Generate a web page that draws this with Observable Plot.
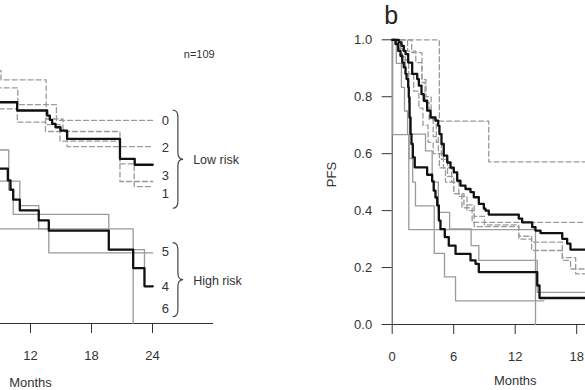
<!DOCTYPE html>
<html><head><meta charset="utf-8">
<script src="https://cdn.jsdelivr.net/npm/d3@7"></script>
<script src="https://cdn.jsdelivr.net/npm/@observablehq/plot@0.6"></script>
<style>
html,body{margin:0;padding:0;background:#fff;}
#wrap{position:relative;width:585px;height:390px;overflow:hidden;background:#fff;}
#left{position:absolute;left:-160px;top:0;width:420px;height:390px;}
#right{position:absolute;left:300px;top:0;width:400px;height:390px;}
#wrap svg{overflow:visible;max-width:none !important;}
</style></head>
<body><div id="wrap"><div id="left"></div><div id="right"></div></div>
<script>
// ---------- shared ticks ----------
const monthTicks = [0, 6, 12, 18, 24];
const survTicks = [0, 0.2, 0.4, 0.6, 0.8, 1.0];
// the reference crop shows only these month labels in each panel
const aShownMonths = [12, 18, 24];
const bShownMonths = [0, 6, 12, 18];

// ---------- panel a (left, partially visible) ----------
// low-risk pooled (black)
const aLowPooledT = [0, 1.5, 3, 4.5, 6, 7.5, 8.5, 10.69, 13.64, 13.9, 14.13, 14.46, 14.95, 15.6, 20.8, 22.25, 24.03];
const aLowPooledS = [1, 0.98, 0.95, 0.92, 0.89, 0.85, 0.779, 0.75, 0.732, 0.717, 0.703, 0.691, 0.679, 0.65, 0.58, 0.559, 0.559];
// score 0 (dashed)
const aScore0T = [0, 3, 6, 8, 9.1, 13.54, 14.55, 24.03];
const aScore0S = [1, 0.97, 0.93, 0.89, 0.858, 0.771, 0.715, 0.715];
// score 2 (dashed)
const aScore2T = [0, 2.5, 5, 7.5, 10.75, 13.54, 15.2, 15.6, 24.03];
const aScore2S = [1, 0.96, 0.92, 0.83, 0.771, 0.72, 0.676, 0.623, 0.623];
// score 3 (dashed)
const aScore3T = [0, 2, 4, 6, 8, 10.7, 13.47, 20.8, 24.03];
const aScore3S = [1, 0.95, 0.9, 0.85, 0.756, 0.709, 0.676, 0.5, 0.5];
// score 1 (dashed)
const aScore1T = [0, 2, 4, 6, 8, 10.69, 13.5, 14.9, 20.8, 22.2, 24.03];
const aScore1S = [1, 0.96, 0.92, 0.86, 0.779, 0.75, 0.70, 0.642, 0.562, 0.482, 0.482];
// high-risk pooled (black)
const aHighPooledT = [0, 1, 2, 3, 4.5, 6, 7.5, 8.6, 9.77, 10.03, 10.3, 10.95, 12.81, 13.8, 19.7, 22.1, 23.21, 24.03];
const aHighPooledS = [1, 0.93, 0.85, 0.78, 0.71, 0.65, 0.6, 0.545, 0.504, 0.471, 0.436, 0.398, 0.363, 0.327, 0.26, 0.195, 0.131, 0.131];
// score 5 (grey)
const aScore5T = [0, 2, 4, 6, 8, 10.95, 12.81, 13.8, 24.03];
const aScore5S = [1, 0.92, 0.83, 0.75, 0.501, 0.415, 0.333, 0.249, 0.249];
// score 4 (grey)
const aScore4T = [0, 2, 4, 6, 8, 9.86, 10.3, 19.7, 23.21];
const aScore4S = [1, 0.9, 0.8, 0.7, 0.611, 0.47, 0.384, 0.26, 0.195];
// score 6 (grey)
const aScore6T = [0, 3, 7, 22.1];
const aScore6S = [1, 0.667, 0.333, 0];

// curve labels of panel a
const aLabels = ["0", "2", "3", "1", "5", "4", "6"];
const aLabelS = [0.715, 0.62, 0.521, 0.458, 0.251, 0.128, 0.053];
const aLabelT = 25.27;
const groupNames = ["Low risk", "High risk"];
const groupS = [0.576, 0.151];
const groupT = 28.0;
const braceTop = [0.75, 0.283];
const braceBottom = [0.404, 0.022];
const braceT = 26.03;
const nText = "n=109";

// ---------- panel b (right) ----------
const bLowPooledT = [0,0.64,0.91,1.13,1.30,1.56,1.95,2.44,2.60,2.86,3.08,3.41,3.74,4.22,4.49,4.61,4.81,5.03,5.37,5.69,6.01,6.34,6.66,7.15,7.64,7.96,8.45,8.94,9.10,9.42,12.35,12.68,13.66,13.98,14.47,16.59,17.07,17.39,24];
const bLowPooledS = [1,0.991,0.979,0.961,0.950,0.920,0.880,0.862,0.839,0.809,0.786,0.751,0.727,0.716,0.698,0.669,0.634,0.593,0.569,0.551,0.534,0.505,0.488,0.476,0.465,0.447,0.424,0.407,0.400,0.386,0.372,0.359,0.342,0.330,0.321,0.301,0.284,0.263,0.263];
const bHighPooledT = [0,0.32,0.59,0.81,0.98,1.13,1.30,1.40,1.56,1.62,1.69,1.79,1.88,2.01,2.20,3.41,3.90,4.05,4.22,4.39,4.55,4.71,5.13,5.52,6.18,7.64,8.13,8.45,14.15,14.37,22];
const bHighPooledS = [1,0.985,0.961,0.944,0.920,0.903,0.880,0.862,0.833,0.798,0.727,0.669,0.634,0.587,0.552,0.526,0.503,0.470,0.446,0.418,0.365,0.335,0.307,0.277,0.248,0.225,0.213,0.184,0.137,0.093,0.093];
// grey solid (high-risk scores)
const bGreyAT = [0, 0.05, 1.62, 13.98];
const bGreyAS = [1, 0.667, 0.333, 0];
const bGreyBT = [0, 0.4, 0.9, 1.2, 1.5, 1.65, 2.0, 2.27, 4.1, 5.1, 6.18, 14.8];
const bGreyBS = [1, 0.917, 0.833, 0.75, 0.667, 0.583, 0.5, 0.417, 0.25, 0.167, 0.083, 0.083];
const bGreyCT = [0, 0.8, 1.3, 1.6, 1.7, 3.25, 3.9, 4.5, 5.6, 7.7, 8.45, 14.15, 22];
const bGreyCS = [1, 0.94, 0.88, 0.78, 0.669, 0.61, 0.5, 0.394, 0.336, 0.277, 0.225, 0.113, 0.113];
// grey dashed (low-risk scores)
const bDashAT = [0, 4.6, 9.42, 24];
const bDashAS = [1, 0.714, 0.571, 0.571];
const bDashBT = [0, 1.5, 2.3, 2.9, 3.3, 3.8, 4.3, 4.8, 5.4, 6.0, 6.8, 7.8, 24];
const bDashBS = [1, 0.96, 0.92, 0.86, 0.8, 0.72, 0.64, 0.58, 0.52, 0.46, 0.41, 0.359, 0.359];
const bDashCT = [0, 1.9, 2.9, 3.2, 3.6, 4.0, 4.5, 5.0, 5.8, 6.5, 7.3, 8.0, 12.35, 13.6, 16.6, 17.4, 24];
const bDashCS = [1, 0.955, 0.85, 0.78, 0.72, 0.66, 0.60, 0.55, 0.50, 0.45, 0.40, 0.344, 0.30, 0.289, 0.225, 0.195, 0.195];
const bDashDT = [0, 0.5, 1.0, 1.6, 2.1, 2.6, 3.0, 3.5, 4.0, 4.6, 5.2, 6.0, 7.0, 8.0, 9.0, 12.35, 13.6, 16.6, 17.9, 24];
const bDashDS = [1, 0.97, 0.93, 0.88, 0.82, 0.76, 0.70, 0.64, 0.60, 0.55, 0.50, 0.46, 0.42, 0.38, 0.35, 0.31, 0.26, 0.235, 0.178, 0.178];

// ---------- helpers ----------
const series = (T, S) => T.map((t, i) => ({t, s: S[i]}));
const BLACK = {stroke: "#111", strokeWidth: 2.3};
const GREY = {stroke: "#9a9a9a", strokeWidth: 1.3};
const DASH = {stroke: "#9a9a9a", strokeWidth: 1.3, strokeDasharray: "5,3"};
const step = (T, S, style) => Plot.line(series(T, S), {x: "t", y: "s", curve: "step-after", ...style});
const FONT = "Liberation Sans, Arial, Helvetica, sans-serif";
const SVGSTYLE = {fontFamily: FONT, fontSize: "13px", color: "#333", background: "transparent", maxWidth: "none", overflow: "visible"};

// ---------- panel a ----------
const left = Plot.plot({
  width: 420, height: 390,
  marginLeft: 68, marginRight: 108, marginTop: 39, marginBottom: 67,
  style: SVGSTYLE,
  x: {domain: [0, 24], ticks: monthTicks.filter(t => aShownMonths.includes(t)), tickSize: 10, tickPadding: 17, label: null},
  y: {domain: [0, 1], axis: null},
  marks: [
    Plot.ruleY([0], {x1: 0, x2: 30, stroke: "#333", strokeWidth: 1}),
    step(aScore0T, aScore0S, DASH),
    step(aScore2T, aScore2S, DASH),
    step(aScore3T, aScore3S, DASH),
    step(aScore1T, aScore1S, DASH),
    step(aScore5T, aScore5S, GREY),
    step(aScore4T, aScore4S, GREY),
    step(aScore6T, aScore6S, GREY),
    step(aLowPooledT, aLowPooledS, BLACK),
    step(aHighPooledT, aHighPooledS, BLACK),
    Plot.text(aLabels, {x: () => aLabelT, y: (d, i) => aLabelS[i], text: d => d, fontSize: 13, fill: "#333"}),
    Plot.text(groupNames, {x: () => groupT, y: (d, i) => groupS[i], text: d => d, textAnchor: "start", fontSize: 12.5, fill: "#333"}),
    Plot.text([nText], {x: () => 28.6, y: () => 0.948, text: d => d, fontSize: 11, fill: "#333"}),
    Plot.text(["Months"], {frameAnchor: "bottom", dy: 63, fontSize: 13, fill: "#333"})
  ]
});
document.getElementById("left").appendChild(left);

// braces drawn with the plot's own scales
(function () {
  const sx = left.scale("x"), sy = left.scale("y");
  const svg = d3.select(left);
  braceTop.forEach((top, i) => {
    const x0 = sx.apply(braceT), w = 10.5, r = 7;
    const y0 = sy.apply(top), y1 = sy.apply(braceBottom[i]), ym = (y0 + y1) / 2;
    const xm = x0 + w / 2;
    const d = `M${x0},${y0} Q${xm},${y0} ${xm},${y0 + r} L${xm},${ym - r} Q${xm},${ym} ${x0 + w},${ym} Q${xm},${ym} ${xm},${ym + r} L${xm},${y1 - r} Q${xm},${y1} ${x0},${y1}`;
    svg.append("path").attr("d", d).attr("fill", "none").attr("stroke", "#444").attr("stroke-width", 1.2);
  });
})();

// ---------- panel b ----------
const right = Plot.plot({
  width: 400, height: 390,
  marginLeft: 91.7, marginRight: 62.3, marginTop: 39.3, marginBottom: 66,
  style: SVGSTYLE,
  x: {domain: [0, 24], ticks: monthTicks.filter(t => bShownMonths.includes(t)), tickSize: 10, tickPadding: 17, label: null},
  y: {domain: [0, 1], ticks: survTicks, tickSize: 10, tickPadding: 10, tickFormat: d3.format(".1f"), label: null},
  marks: [
    Plot.ruleY([0], {x1: 0, x2: 30, stroke: "#333", strokeWidth: 1}),
    Plot.ruleX([0], {y1: 0, y2: 1, stroke: "#333", strokeWidth: 1}),
    step(bDashAT, bDashAS, DASH),
    step(bDashBT, bDashBS, DASH),
    step(bDashCT, bDashCS, DASH),
    step(bDashDT, bDashDS, DASH),
    step(bGreyAT, bGreyAS, GREY),
    step(bGreyBT, bGreyBS, GREY),
    step(bGreyCT, bGreyCS, GREY),
    step(bLowPooledT, bLowPooledS, BLACK),
    step(bHighPooledT, bHighPooledS, BLACK),
    Plot.text(["Months"], {frameAnchor: "bottom", dy: 60, fontSize: 13, fill: "#333"}),
    Plot.text(["PFS"], {frameAnchor: "left", rotate: -90, dx: -60, dy: 5, fontSize: 13, fill: "#333"}),
    Plot.text(["b"], {frameAnchor: "top-left", textAnchor: "middle", lineAnchor: "middle", dx: -1, dy: -24, fontSize: 25, fill: "#222"})
  ]
});
document.getElementById("right").appendChild(right);
</script>
</body></html>
